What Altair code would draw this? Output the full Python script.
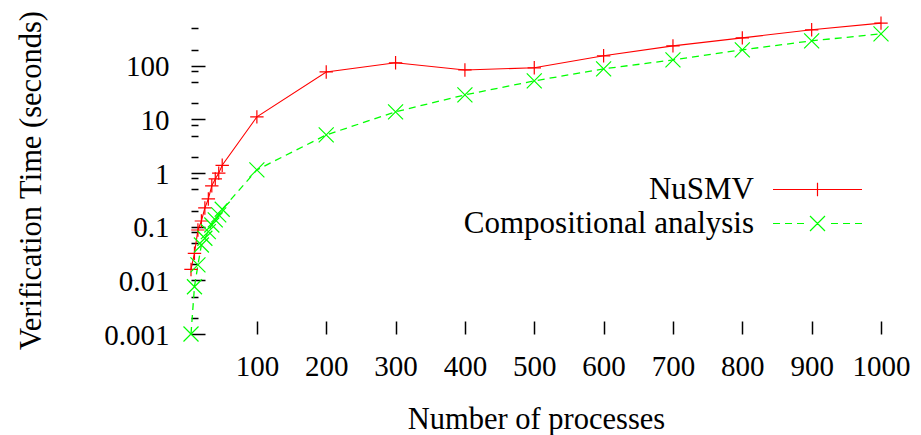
import altair as alt
import pandas as pd

# ---- data ----
processes = [5, 10, 15, 20, 25, 30, 35, 40, 45, 50,
             100, 200, 300, 400, 500, 600, 700, 800, 900, 1000]
nusmv = [0.016, 0.032, 0.087, 0.128, 0.224, 0.33, 0.58, 0.78, 1.0, 1.4,
         11.2, 77, 114, 84, 92, 154, 236, 333, 470, 627]
compositional = [0.001, 0.0076, 0.0194, 0.0457, 0.061, 0.081, 0.108, 0.134, 0.166, 0.212,
                 1.15, 5.16, 13.9, 28.8, 52.5, 88, 129, 199, 293, 395]
series_names = ["NuSMV", "Compositional analysis"]
x_tick_values = [100, 200, 300, 400, 500, 600, 700, 800, 900, 1000]
y_label_values = [0.001, 0.01, 0.1, 1, 10, 100]
y_minor_values = [0.002, 0.005, 0.02, 0.05, 0.08, 0.2, 0.5, 0.8,
                  2, 5, 8, 20, 50, 80, 200, 500]
y_max = 630

rows = []
for p, a, b in zip(processes, nusmv, compositional):
    rows.append({"n": p, "t": a, "series": series_names[0]})
    rows.append({"n": p, "t": b, "series": series_names[1]})
df = pd.DataFrame(rows)

FONT = "Liberation Serif"
RED = "#ff0000"
GREEN = "#00ff00"
PLUS = "M-1,0L1,0M0,-1L0,1"
CROSS = "M-1,-1L1,1M-1,1L1,-1"
LEG_RED = "M-44.5,0L44.5,0M0,-6.7L0,6.7"
LEG_GREEN = ("M-44.5,0L-37.5,0M-32.5,0L-25.5,0M-20.5,0L-13.5,0"
             "M13.5,0L20.5,0M25.5,0L32.5,0M37.5,0L44.5,0"
             "M-7.5,-7.5L7.5,7.5M-7.5,7.5L7.5,-7.5")

W, H = 690, 311

xs = alt.Scale(domain=[processes[0], processes[-1]], nice=False, zero=False)
ys = alt.Scale(type="log", domain=[y_label_values[0], y_max], nice=False)

x_label_axis = alt.Axis(values=x_tick_values, ticks=False, tickSize=0, domain=False, grid=False,
                        format="d",
                        labelFont=FONT, labelFontSize=29, labelColor="black",
                        labelBaseline="alphabetic", labelPadding=41, labelFlush=False,
                        labelOverlap=False,
                        title="Number of processes", titleFont=FONT, titleFontSize=30.5,
                        titleFontWeight="normal", titleColor="black",
                        titleX=W / 2, titleY=94, titleBaseline="alphabetic", titleAlign="center")
y_label_axis = alt.Axis(values=y_label_values, ticks=False, tickSize=0, domain=False, grid=False,
                        format="~g", labelFont=FONT, labelFontSize=29, labelColor="black",
                        labelBaseline="alphabetic", labelPadding=22, labelOffset=10,
                        labelOverlap=False, labelFlush=False,
                        title="Verification Time (seconds)", titleFont=FONT, titleFontSize=30.5,
                        titleFontWeight="normal", titleColor="black", titleAngle=270,
                        titleX=-151, titleY=157, titleBaseline="alphabetic", titleAlign="center")
x_tick_axis = alt.Axis(orient="top", offset=-H, values=x_tick_values, tickSize=13,
                       tickColor="black", tickWidth=1.5, labels=False, domain=False,
                       grid=False, title=None)
y_tick_axis = alt.Axis(orient="right", offset=-W, values=y_label_values + y_minor_values,
                       tickSize={"condition": {"test": "abs(log(datum.value)/LN10 - round(log(datum.value)/LN10)) < 0.01",
                                               "value": 14}, "value": 7},
                       tickColor="black", tickWidth=1.5, labels=False, domain=False,
                       grid=False, title=None)

base = alt.Chart(df)
red = base.transform_filter(alt.datum.series == series_names[0])
green = base.transform_filter(alt.datum.series == series_names[1])

line_red = red.mark_line(color=RED, strokeWidth=1.1).encode(
    x=alt.X("n:Q", scale=xs, axis=x_label_axis),
    y=alt.Y("t:Q", scale=ys, axis=y_label_axis))
line_green = green.mark_line(color=GREEN, strokeWidth=1.3, strokeDash=[7, 5]).encode(
    x=alt.X("n:Q", scale=xs, axis=None),
    y=alt.Y("t:Q", scale=ys, axis=None))
pts_red = red.mark_point(shape=PLUS, size=180, filled=False, strokeWidth=1.2,
                         color=RED, opacity=1).encode(
    x=alt.X("n:Q", scale=xs, axis=x_tick_axis),
    y=alt.Y("t:Q", scale=ys, axis=y_tick_axis))
pts_green = green.mark_point(shape=CROSS, size=225, filled=False, strokeWidth=1.2,
                             color=GREEN, opacity=1).encode(
    x=alt.X("n:Q", scale=xs, axis=None),
    y=alt.Y("t:Q", scale=ys, axis=None))

legend = alt.Legend(title=None, orient="none", legendX=455, legendY=151,
                    labelFont=FONT, labelFontSize=31, labelColor="black",
                    labelAlign="right", labelOffset={"expr": "-79"}, symbolOffset=156,
                    labelLimit=600, padding=0, rowPadding=2,
                    symbolStrokeWidth=1.2, symbolSize=4)
carrier = base.transform_filter("false").mark_point(filled=False, size=4, opacity=1,
                                                    strokeWidth=1.2).encode(
    x=alt.X("n:Q", scale=xs, axis=None),
    y=alt.Y("t:Q", scale=ys, axis=None),
    color=alt.Color("series:N", scale=alt.Scale(domain=series_names, range=[RED, GREEN]),
                    legend=legend),
    shape=alt.Shape("series:N", scale=alt.Scale(domain=series_names, range=[LEG_RED, LEG_GREEN]),
                    legend=legend))

chart = alt.layer(line_red, line_green, pts_red, pts_green, carrier).resolve_axis(
    x="independent", y="independent"
).properties(
    width=W, height=H,
    padding={"left": 191, "top": 23, "right": 40, "bottom": 101},
    autosize=alt.AutoSizeParams(type="none"),
    background="white",
).configure_view(stroke=None)

chart.save("out.html", embed_options={"renderer": "svg", "actions": False})
